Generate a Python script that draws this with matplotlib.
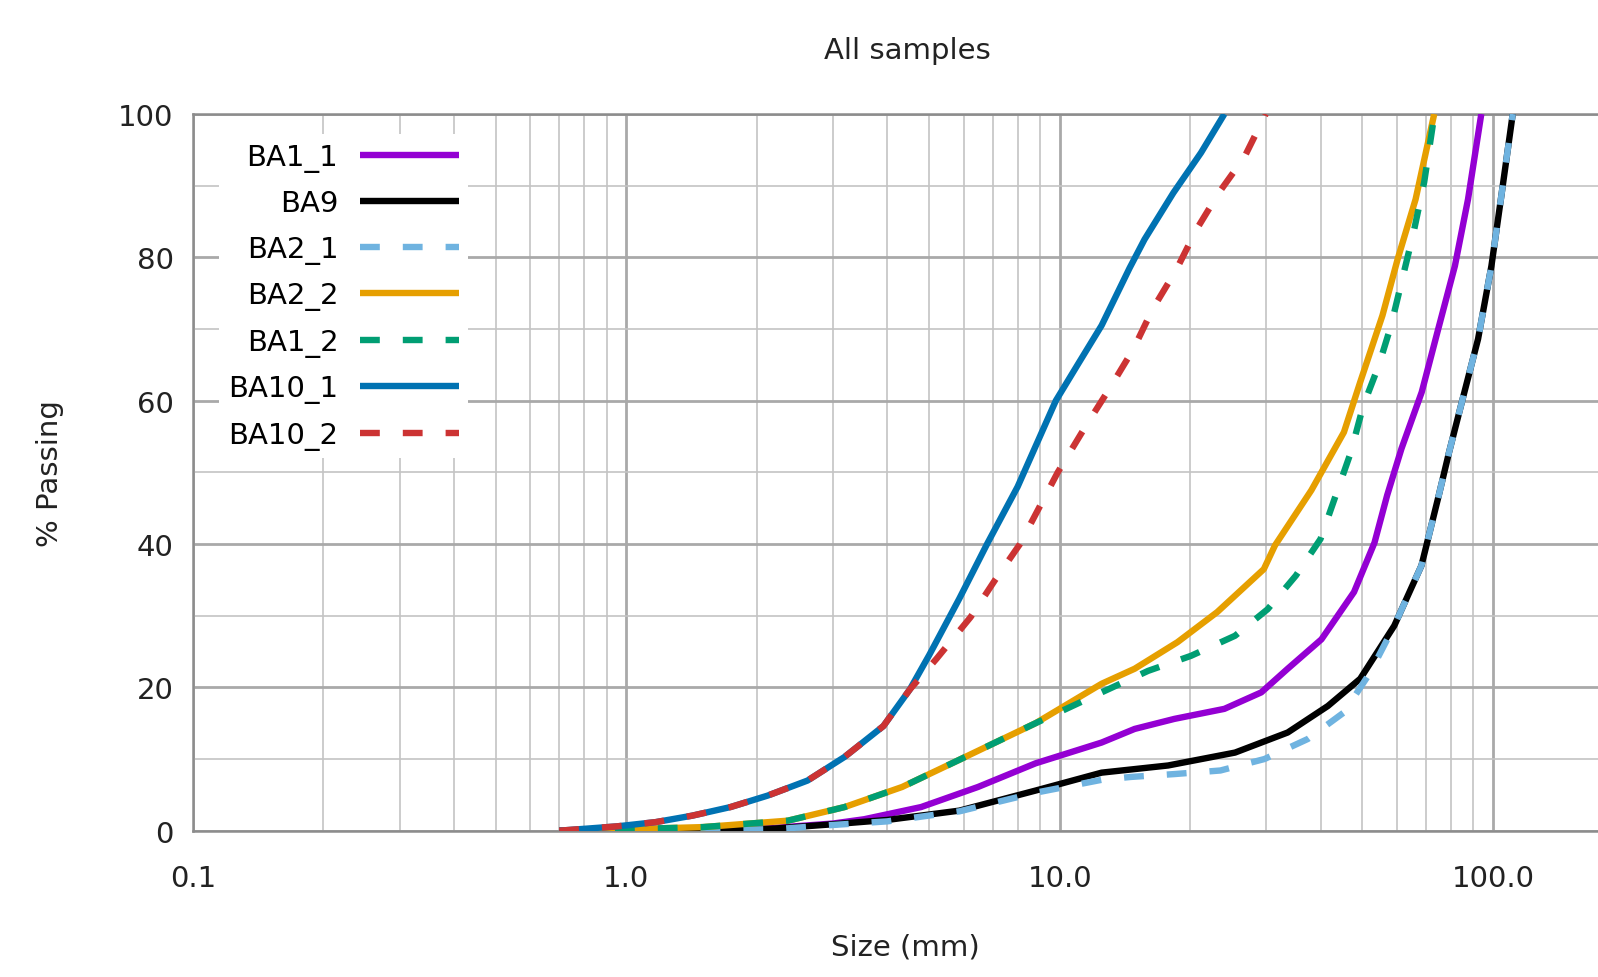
import matplotlib
matplotlib.use('Agg')
import matplotlib.pyplot as plt
from matplotlib.ticker import FixedLocator, FuncFormatter, MultipleLocator, NullFormatter
import numpy as np

# sieve data (size in mm, % passing)
labels = ['BA1_1', 'BA9', 'BA2_1', 'BA2_2', 'BA1_2', 'BA10_1', 'BA10_2']
colors = ['#9400d3', '#000000', '#6fb3e0', '#e69f00', '#009e73', '#0072b2', '#cc3333']
dashed = [False, False, True, False, True, False, True]

ba1_1_size = [0.75, 1.5, 2.2, 3.0, 3.54, 4.79, 6.48, 8.8, 12.5, 14.9, 18.4, 24.0, 29.2,
              33.6, 40.2, 47.8, 53.3, 57.0, 61.5, 68.5, 74.4, 81.7, 87.6, 94.0]
ba1_1_pass = [0.0, 0.1, 0.4, 1.0, 1.6, 3.3, 6.1, 9.4, 12.3, 14.2, 15.6, 17.0, 19.3,
              22.6, 26.7, 33.3, 40.2, 46.8, 53.3, 61.2, 69.5, 78.8, 88.1, 100.0]

ba9_size = [0.70, 1.5, 2.2, 3.0, 4.0, 5.87, 8.8, 12.5, 17.8, 25.4, 33.6, 41.6, 49.4,
            59.2, 68.4, 75.0, 79.2, 85.1, 92.4, 99.2, 104.3, 111.1]
ba9_pass = [0.0, 0.1, 0.3, 0.9, 1.5, 2.8, 5.6, 8.1, 9.1, 10.9, 13.7, 17.4, 21.2,
            28.6, 37.0, 46.8, 52.8, 60.2, 68.6, 78.8, 88.1, 100.0]

ba2_1_size = [0.75, 2.2, 3.0, 4.0, 5.87, 8.8, 12.5, 14.6, 18.4, 23.5, 29.7, 37.4, 45.3,
              52.0, 59.2, 68.4, 75.0, 79.2, 85.1, 92.4, 99.2, 104.3, 111.1]
ba2_1_pass = [0.0, 0.2, 0.8, 1.3, 2.7, 5.3, 7.1, 7.5, 7.9, 8.4, 10.0, 12.8, 16.5,
              22.0, 28.6, 37.0, 46.8, 52.8, 60.2, 68.6, 78.8, 88.1, 100.0]

ba2_2_size = [0.75, 1.0, 1.5, 2.36, 3.19, 4.33, 5.87, 8.8, 12.5, 14.9, 18.7, 23.1, 29.6,
              31.4, 38.1, 45.3, 49.4, 55.6, 60.3, 66.3, 73.2]
ba2_2_pass = [0.0, 0.2, 0.5, 1.4, 3.3, 6.1, 9.9, 15.0, 20.5, 22.6, 26.3, 30.5, 36.5,
              39.8, 47.5, 55.6, 62.6, 71.9, 79.8, 88.1, 100.0]

ba1_2_size = [0.75, 1.0, 1.5, 2.36, 3.19, 4.33, 5.87, 8.8, 12.5, 16.0, 20.1, 25.4, 30.2,
              35.1, 40.0, 43.5, 47.0, 50.2, 54.5, 58.2, 61.5, 65.6, 69.4, 73.0, 74.0]
ba1_2_pass = [0.0, 0.2, 0.5, 1.4, 3.3, 6.1, 9.9, 15.0, 19.3, 22.3, 24.4, 27.2, 30.9,
              35.6, 40.7, 47.0, 52.8, 59.3, 64.9, 70.5, 76.5, 83.5, 90.5, 99.3, 100.0]

ba10_1_size = [0.70, 0.95, 1.17, 1.42, 1.74, 2.12, 2.62, 3.19, 3.92, 4.51, 5.0, 5.87,
               6.8, 8.0, 9.8, 11.0, 12.5, 14.5, 15.7, 18.3, 21.2, 24.0]
ba10_1_pass = [0.0, 0.6, 1.2, 2.1, 3.3, 4.9, 7.0, 10.3, 14.6, 19.7, 24.5, 32.4,
               40.0, 48.0, 60.0, 65.0, 70.5, 78.5, 82.5, 89.0, 94.6, 100.0]

ba10_2_size = [0.70, 0.95, 1.17, 1.42, 1.74, 2.12, 2.62, 3.19, 3.92, 4.51, 5.2, 6.23,
               7.1, 8.1, 9.9, 11.5, 13.1, 14.8, 16.4, 18.6, 20.7, 23.3, 26.7, 29.9]
ba10_2_pass = [0.0, 0.6, 1.2, 2.1, 3.3, 4.9, 7.0, 10.3, 14.6, 19.7, 24.0, 29.8,
               35.0, 40.0, 50.0, 56.5, 61.9, 67.2, 72.8, 78.3, 83.9, 89.0, 94.0, 100.0]

sizes = [ba1_1_size, ba9_size, ba2_1_size, ba2_2_size, ba1_2_size, ba10_1_size, ba10_2_size]
passing = [ba1_1_pass, ba9_pass, ba2_1_pass, ba2_2_pass, ba1_2_pass, ba10_1_pass, ba10_2_pass]

x_ticks = [0.1, 1.0, 10.0, 100.0]
y_ticks = [0, 20, 40, 60, 80, 100]

plt.rcParams['font.family'] = ['DejaVu Sans']
fs = 21

fig = plt.figure(figsize=(15.98, 9.78), dpi=100)
# gnuplot canvas was cut on the right, so the axes run past the figure edge
ax = fig.add_axes([0.1208, 0.1496, 1.0846, 0.7328])
ax.set_xscale('log')
ax.set_xlim(0.1, 1000)
ax.set_ylim(0, 100)

ax.xaxis.set_major_locator(FixedLocator(x_ticks))
ax.xaxis.set_major_formatter(FuncFormatter(lambda v, p: '%.1f' % v))
ax.xaxis.set_minor_formatter(NullFormatter())
ax.yaxis.set_major_locator(FixedLocator(y_ticks))
ax.yaxis.set_minor_locator(MultipleLocator(10))

ax.grid(True, which='major', color='#a9a9a9', lw=2.0)
ax.grid(True, which='minor', color='#c4c4c4', lw=1.2)
ax.set_axisbelow(True)
ax.tick_params(which='both', length=0, labelsize=fs, labelcolor='#222222')
ax.tick_params(axis='x', pad=24)
ax.tick_params(axis='y', pad=14)
for s in ax.spines.values():
    s.set_color('#8c8c8c')
    s.set_linewidth(1.8)

for xs, ys, lab, col, d in zip(sizes, passing, labels, colors, dashed):
    if d:
        ax.plot(xs, ys, color=col, lw=4.6, label=lab, dashes=(3.1, 3.6),
                dash_capstyle='butt', zorder=3)
    else:
        ax.plot(xs, ys, color=col, lw=4.6, label=lab, solid_capstyle='butt', zorder=3)

leg = ax.legend(loc='upper right', bbox_to_anchor=(0.2929, 0.862),
                bbox_transform=fig.transFigure, markerfirst=False, fontsize=fs,
                handlelength=3.4, handletextpad=0.75, labelspacing=0.6,
                borderpad=0.3, borderaxespad=0, frameon=True, fancybox=False)
leg.get_frame().set_facecolor('white')
leg.get_frame().set_edgecolor('none')
leg.get_frame().set_alpha(1.0)

fig.text(0.5676, 0.948, 'All samples', ha='center', va='center', fontsize=fs, color='#222222')
fig.text(0.5663, 0.031, 'Size (mm)', ha='center', va='center', fontsize=fs, color='#222222')
fig.text(0.031, 0.516, '% Passing', ha='center', va='center', rotation=90, fontsize=fs,
         color='#222222')

fig.savefig('out.png', dpi=100)
